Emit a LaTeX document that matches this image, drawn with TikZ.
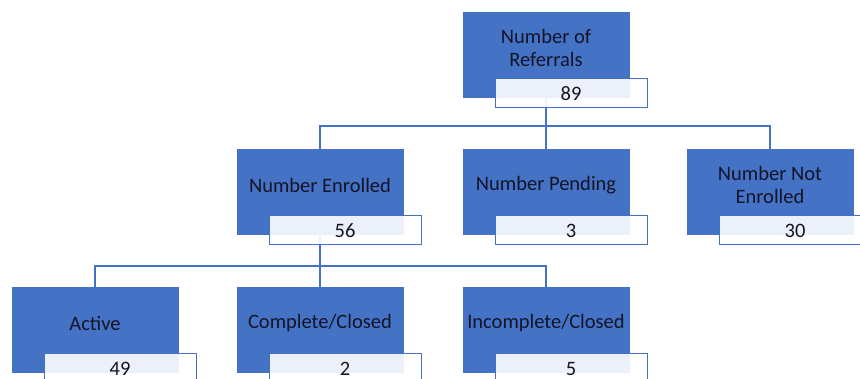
\documentclass[tikz,border=0pt]{standalone}
\usepackage{fontspec}
\setmainfont{Carlito}
\usetikzlibrary{positioning}
\usetikzlibrary{backgrounds}
\definecolor{chart blue}{HTML}{4472C4}
\definecolor{chart text}{HTML}{141428}
\tikzset{
  card/.style={fill=chart blue, draw=chart blue, minimum width=166pt, minimum height=85pt, anchor=north west, inner sep=0pt, outer sep=0pt},
  countbox/.style={draw=chart blue, line width=1pt, fill=white, fill opacity=0.9, text opacity=1, text=chart text, minimum width=152pt, minimum height=29pt, inner sep=0pt, outer sep=0pt},
  link/.style={draw=chart blue, line width=1.2pt}
}

\begin{document}
\begin{tikzpicture}[x=1pt, y=-1pt, font=\fontsize{20.5}{23}\selectfont]
    \useasboundingbox (0,0) rectangle (860,379);
    \foreach \id/\x/\y/\title/\count in {ref/463/12/{Number of\\Referrals}/89, en/237/149/{Number Enrolled}/56, pe/463/149/{Number Pending}/3, ne/687/149/{Number Not\\Enrolled}/30, ac/12/287/{Active}/49, co/237/287/{Complete/Closed}/2, ic/463/287/{Incomplete/Closed}/5} {
        \node[card, label={[text=chart text, align=center, yshift=6.5pt]center:\title}] (\id) at (\x,\y) {};
        \node[countbox, below right=-18pt and 32pt of \id.south west] (\id-n) {\count};
    }
    \begin{scope}[on background layer]
        \draw[link] (ref.south) -- ++(0,29) coordinate (split1);
        \draw[link] (en.north) |- (split1) -| (ne.north);
        \draw[link] (pe.north) -- (split1);
        \draw[link] (en.south) -- ++(0,32) coordinate (split2);
        \draw[link] (ac.north) |- (split2) -| (ic.north);
        \draw[link] (co.north) -- (split2);
    \end{scope}
\end{tikzpicture}
\end{document}
